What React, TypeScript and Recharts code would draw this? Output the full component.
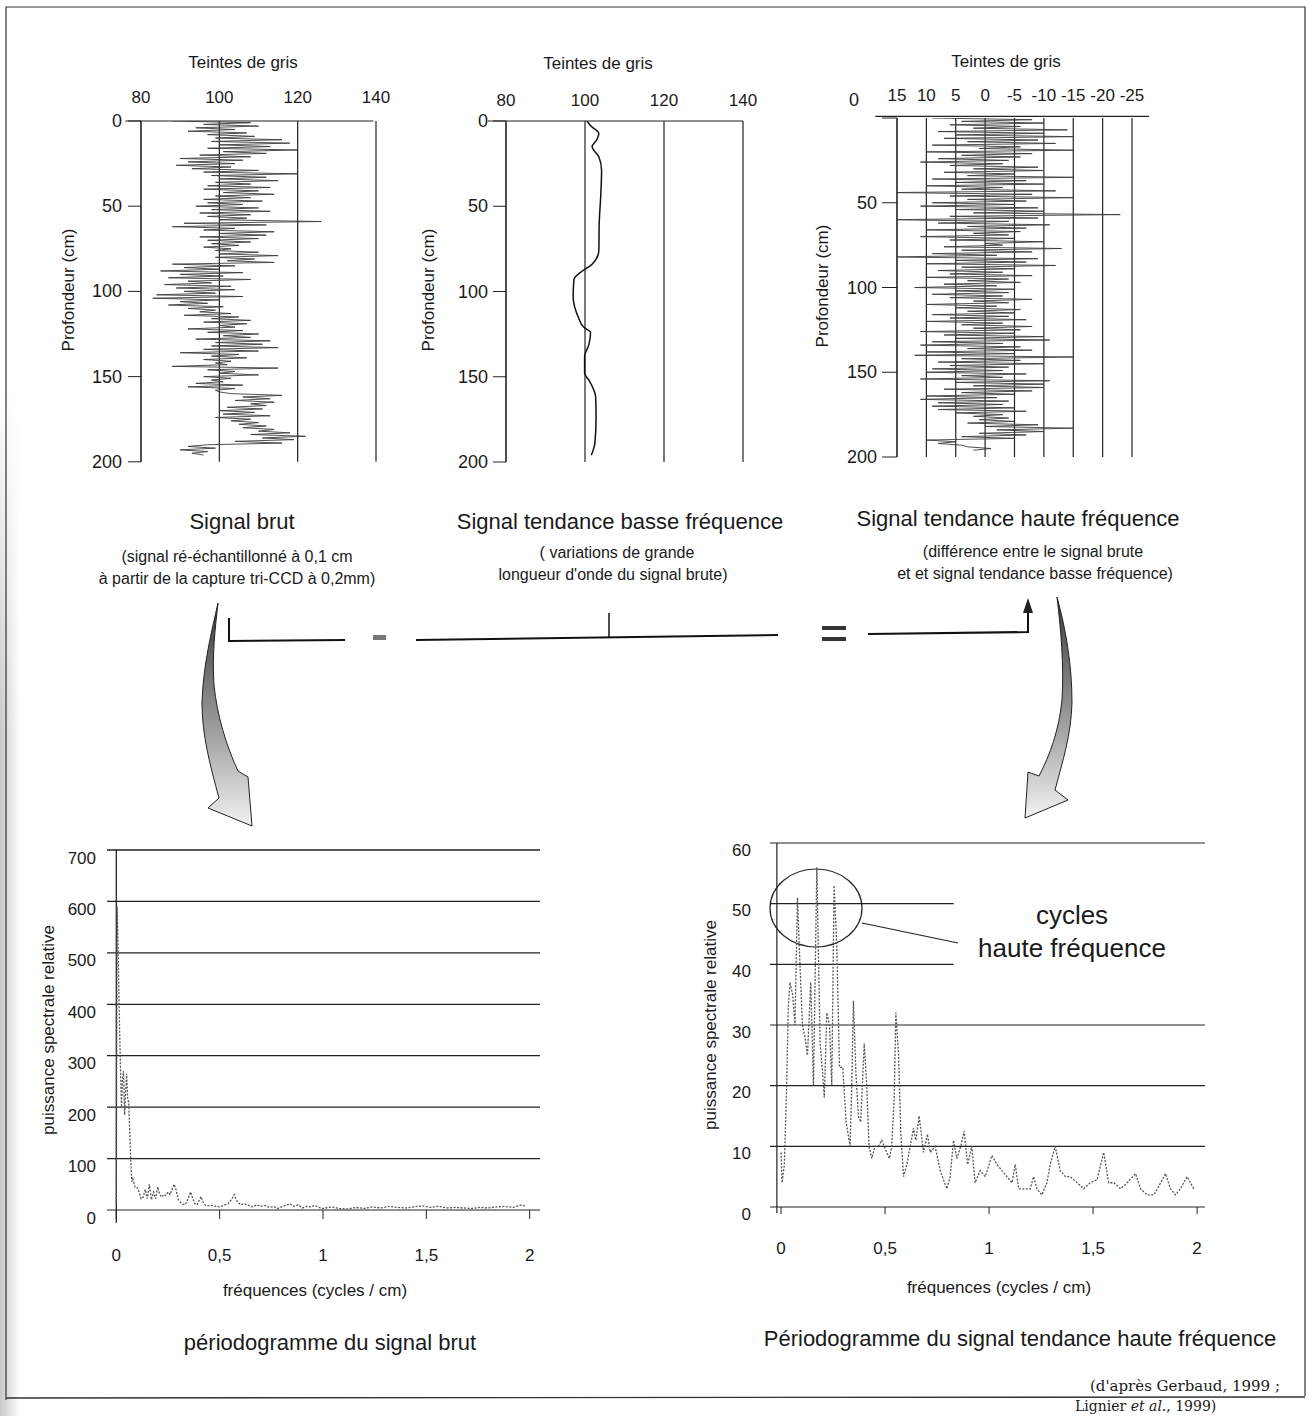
import {
  LineChart,
  Line,
  XAxis,
  YAxis,
  CartesianGrid,
  ReferenceLine,
} from "recharts";

const SANS = "'Liberation Sans', Arial, sans-serif";
const SERIF = "'DejaVu Serif', 'Liberation Serif', serif";
const INK = "#1a1a1a";

// ---- top row: depth profiles (1 sample per cm, 0..196 cm) ----
const depthStep = 1;

const brutValues = [
  88, 108, 96, 110, 94, 104, 92, 107, 97, 109,
  99, 116, 98, 118, 100, 113, 97, 120, 101, 112,
  95, 108, 90, 106, 92, 104, 89, 103, 93, 110,
  96, 120, 98, 112, 100, 115, 99, 108, 97, 113,
  96, 110, 101, 114, 99, 108, 96, 111, 97, 106,
  94, 110, 98, 113, 95, 108, 97, 107, 100, 126,
  91, 112, 88, 104, 96, 114, 100, 112, 95, 110,
  97, 108, 98, 105, 96, 103, 99, 110, 100, 115,
  99, 109, 102, 114, 88, 104, 91, 100, 85, 106,
  90, 101, 87, 108, 92, 98, 86, 103, 89, 104,
  91, 99, 84, 106, 83, 100, 90, 97, 87, 101,
  92, 99, 95, 103, 91, 105, 98, 108, 96, 107,
  100, 104, 92, 106, 97, 110, 101, 108, 94, 113,
  99, 111, 98, 115, 96, 110, 90, 105, 98, 107,
  96, 103, 99, 102, 88, 115, 97, 104, 100, 110,
  96, 103, 98, 101, 94, 106, 92, 104, 99, 100,
  103, 116, 106, 113, 104, 114, 108, 112, 102, 111,
  100, 109, 101, 113, 99, 108, 103, 110, 105, 112,
  106, 114, 110, 118, 108, 122, 111, 119, 104, 116,
  97, 92, 99, 90, 97, 93, 96,
];

const trendDepths = [
  0, 3, 7.4, 11, 15, 21, 29, 43, 60, 76, 84, 88, 93,
  103, 115, 121, 124, 131, 138, 148, 152, 162, 174, 189, 196,
];
const trendValues = [
  100.5, 101.5, 103.5, 103, 101.8, 103.5, 104.2, 104, 103.6, 103.5, 101.8, 99.3, 97.2,
  97, 98.3, 99.7, 101.4, 101, 99.9, 99.9, 101, 102.7, 102.8, 102.5, 101.6,
];

const hfValues = [
  9, -8, 4, -10, 6, -6, 2, -14, 8, -10,
  5, -15, 7, -9, 3, -12, 9, -6, 1, -15,
  10, -8, 4, -6, 8, -4, 11, -3, 6, -9,
  2, -10, 7, -5, 3, -15, 9, -7, 5, -10,
  10, -3, 4, -12, 16, -8, 6, -15, 3, -7,
  9, -5, 11, -9, 5, -10, 2, -23, 6, -9,
  16, -4, 8, -11, 3, -7, 10, -6, 2, -4,
  11, -5, 6, -10, 0, -3, 7, -13, 4, -8,
  9, -2, 16, -9, 5, -7, 10, -12, 4, -5,
  8, -3, 6, -8, 10, -4, 3, -6, 7, -2,
  12, -5, 5, -4, 9, -3, 6, -8, 2, -4,
  10, -2, 5, -6, 3, -5, 9, -4, 6, -7,
  10, -3, 4, -8, 2, -6, 11, -5, 7, -10,
  5, -11, 9, -3, 11, -6, 3, -8, 10, -5,
  12, -15, 4, -6, 8, -10, 6, -4, 9, -3,
  10, -7, 4, -3, 11, -11, 5, -10, 2, -10,
  7, -8, 4, -5, 10, -2, 11, -4, 8, -3,
  9, -5, 8, -7, 5, -3, 2, -4, 1, -5,
  3, -9, 0, -15, -2, -10, 1, -7, 4, -5,
  10, 5, 8, 4, 3, -1, 2,
];

const greyTicks = [80, 100, 120, 140];
const hfTicks = [15, 10, 5, 0, -5, -10, -15, -20, -25];
const depthTicks = [0, 50, 100, 150, 200];

// ---- bottom row: periodograms ----
const p1Freq = [
  0, 0.004, 0.008, 0.012, 0.016, 0.02, 0.025, 0.03, 0.035, 0.04,
  0.045, 0.05, 0.055, 0.06, 0.065, 0.07, 0.075, 0.08, 0.09, 0.1,
  0.11, 0.12, 0.13, 0.14, 0.15, 0.16, 0.17, 0.18, 0.19, 0.2,
  0.21, 0.22, 0.23, 0.24, 0.25, 0.26, 0.27, 0.28, 0.29, 0.3,
  0.31, 0.32, 0.33, 0.34, 0.35, 0.36, 0.37, 0.38, 0.39, 0.4,
  0.41, 0.42, 0.43, 0.44, 0.46, 0.48, 0.5, 0.52, 0.54, 0.56,
  0.57, 0.58, 0.6, 0.62, 0.64, 0.66, 0.68, 0.7, 0.72, 0.74,
  0.76, 0.78, 0.8, 0.82, 0.84, 0.86, 0.88, 0.9, 0.92, 0.94,
  0.96, 0.98, 1.0, 1.04, 1.08, 1.12, 1.16, 1.2, 1.24, 1.28,
  1.32, 1.36, 1.4, 1.44, 1.48, 1.52, 1.56, 1.6, 1.64, 1.68,
  1.72, 1.76, 1.8, 1.84, 1.88, 1.92, 1.96, 1.98,
];
const p1Power = [
  15, 590, 520, 430, 350, 280, 200, 255, 270, 185,
  230, 265, 215, 210, 150, 95, 55, 60, 45, 45,
  35, 22, 25, 40, 22, 50, 20, 35, 22, 45,
  30, 25, 30, 28, 35, 30, 40, 50, 38, 20,
  15, 12, 10, 15, 25, 35, 22, 12, 10, 18,
  26, 15, 10, 8, 9, 7, 6, 9, 12, 22,
  30, 20, 10, 12, 9, 6, 10, 7, 9, 5,
  7, 3, 6, 9, 12, 7, 10, 4, 7, 6,
  9, 5, 3, 6, 3, 2, 5, 3, 6, 4,
  7, 5, 4, 6, 8, 5, 7, 4, 5, 4,
  3, 5, 4, 6, 7, 5, 10, 7,
];

const p2Freq = [
  0, 0.005, 0.016, 0.027, 0.035, 0.043, 0.056, 0.067, 0.079, 0.091,
  0.103, 0.115, 0.127, 0.143, 0.156, 0.172, 0.188, 0.2, 0.208, 0.22,
  0.233, 0.244, 0.255, 0.268, 0.281, 0.297, 0.313, 0.332, 0.34, 0.348,
  0.36, 0.372, 0.383, 0.4, 0.412, 0.423, 0.436, 0.452, 0.468, 0.484,
  0.508, 0.521, 0.532, 0.544, 0.552, 0.565, 0.576, 0.589, 0.605, 0.621,
  0.637, 0.648, 0.664, 0.685, 0.704, 0.717, 0.741, 0.765, 0.797, 0.813,
  0.829, 0.845, 0.864, 0.88, 0.897, 0.917, 0.933, 0.957, 0.982, 1.014,
  1.038, 1.062, 1.086, 1.11, 1.126, 1.142, 1.166, 1.198, 1.214, 1.23,
  1.254, 1.278, 1.294, 1.318, 1.342, 1.367, 1.39, 1.423, 1.455, 1.487,
  1.519, 1.551, 1.575, 1.6, 1.632, 1.664, 1.704, 1.728, 1.76, 1.792,
  1.825, 1.848, 1.872, 1.896, 1.92, 1.952, 1.984,
];
const p2Power = [
  9, 4, 7, 20, 33, 37, 35, 30, 51, 40,
  30, 28, 25, 37, 20, 56, 27, 22, 18, 32,
  30, 20, 53, 43, 23, 23, 14, 10, 20, 34,
  22, 15, 14, 27, 20, 10, 8, 10, 10, 11,
  9, 8, 10, 18, 32, 25, 12, 5, 7, 10,
  13, 11, 15, 9, 12, 9, 10, 6, 3, 5,
  11, 8, 10, 12.5, 7, 10, 4, 6, 5, 8.5,
  7, 6, 5, 4, 7, 3, 3, 3, 5, 3,
  2, 4, 7, 10, 6, 5, 5, 4, 3, 4,
  4.5, 9, 4, 4, 3, 4, 5.5, 3, 2, 2,
  4, 5.5, 3, 2, 3, 5, 3,
];

const freqTicks = [0, 0.5, 1, 1.5, 2];
const p1Ticks = [0, 100, 200, 300, 400, 500, 600, 700];
const p2Ticks = [0, 10, 20, 30, 40, 50, 60];

const brutData = brutValues.map((v, i) => ({ depth: i * depthStep, v }));
const hfData = hfValues.map((v, i) => ({ depth: i * depthStep, v }));
const trendData = trendDepths.map((d, i) => ({ depth: d, v: trendValues[i] }));
const p1Data = p1Freq.map((f, i) => ({ f, p: p1Power[i] }));
const p2Data = p2Freq.map((f, i) => ({ f, p: p2Power[i] }));

const comma = (v: number) => String(v).replace(".", ",");

const makeTick =
  (anchor: "start" | "middle" | "end", size: number, dy = 0, fmt?: (v: number) => string) =>
  (props: any) => {
    const { x, y, payload } = props;
    return (
      <text
        x={x}
        y={y + dy}
        textAnchor={anchor}
        dominantBaseline="central"
        fontSize={size}
        fontFamily={SANS}
        fill={INK}
      >
        {fmt ? fmt(payload.value) : payload.value}
      </text>
    );
  };

// the "0" of the third profile sits up with the grey-level labels
const hfDepthTick = (props: any) => {
  const { x, y, payload } = props;
  const zero = payload.value === 0;
  return (
    <text
      x={zero ? x - 18 : x}
      y={zero ? y - 18 : y}
      textAnchor="end"
      dominantBaseline="central"
      fontSize={18}
      fontFamily={SANS}
      fill={INK}
    >
      {payload.value}
    </text>
  );
};

// plot rect -> absolutely placed chart box
const topBox = (px: number, py: number, pw: number, ph: number) => ({
  left: px - 100,
  top: py - 90,
  width: pw + 130,
  height: ph + 120,
});
const botBox = (px: number, py: number, pw: number, ph: number) => ({
  left: px - 100,
  top: py - 40,
  width: pw + 130,
  height: ph + 120,
});
const topMargin = { top: 40, left: 20, right: 30, bottom: 30 };
const botMargin = { top: 40, left: 20, right: 30, bottom: 30 };

const boxA = topBox(141, 120.7, 235, 340.8);
const boxB = topBox(506, 120.7, 237, 341);
const boxC = topBox(896.7, 118, 235, 339);
const boxD = botBox(107, 850, 433, 360);
const boxE = botBox(770, 843, 435, 364);

const abs = (b: { left: number; top: number }) => ({
  position: "absolute" as const,
  left: b.left,
  top: b.top,
});

const SignalBrut = () => (
  <div style={abs(boxA)}>
    <LineChart layout="vertical" width={boxA.width} height={boxA.height} data={brutData} margin={topMargin}>
      <CartesianGrid horizontal={false} stroke="#222" strokeWidth={1.2} />
      <XAxis
        type="number"
        orientation="top"
        domain={[80, 140]}
        ticks={greyTicks}
        interval={0}
        height={50}
        axisLine={false}
        tickLine={false}
        tickSize={0}
        tickMargin={23}
        tick={makeTick("middle", 17)}
        allowDataOverflow
      />
      <YAxis
        type="number"
        dataKey="depth"
        domain={[0, 200]}
        ticks={depthTicks}
        interval={0}
        width={80}
        stroke="#222"
        tickSize={13}
        tickMargin={6}
        tick={makeTick("end", 18)}
        allowDataOverflow
      />
      <ReferenceLine
        segment={[{ x: 76, y: 0 }, { x: 139.3, y: 0 }]}
        stroke="#222"
        strokeWidth={1.2}
        ifOverflow="visible"
      />
      <Line
        dataKey="v"
        type="linear"
        stroke="#3c3c3c"
        strokeWidth={0.9}
        dot={false}
        isAnimationActive={false}
      />
    </LineChart>
  </div>
);

const SignalTrend = () => (
  <div style={abs(boxB)}>
    <LineChart layout="vertical" width={boxB.width} height={boxB.height} data={trendData} margin={topMargin}>
      <CartesianGrid horizontal={false} stroke="#222" strokeWidth={1.2} />
      <XAxis
        type="number"
        orientation="top"
        domain={[80, 140]}
        ticks={greyTicks}
        interval={0}
        height={50}
        axisLine={false}
        tickLine={false}
        tickSize={0}
        tickMargin={21}
        tick={makeTick("middle", 17)}
        allowDataOverflow
      />
      <YAxis
        type="number"
        dataKey="depth"
        domain={[0, 200]}
        ticks={depthTicks}
        interval={0}
        width={80}
        stroke="#222"
        tickSize={13}
        tickMargin={5}
        tick={makeTick("end", 18)}
        allowDataOverflow
      />
      <ReferenceLine
        segment={[{ x: 75.4, y: 0 }, { x: 140, y: 0 }]}
        stroke="#222"
        strokeWidth={1.2}
        ifOverflow="visible"
      />
      <Line
        dataKey="v"
        type="monotoneY"
        stroke="#111"
        strokeWidth={1.5}
        dot={false}
        isAnimationActive={false}
      />
    </LineChart>
  </div>
);

const SignalHaute = () => (
  <div style={abs(boxC)}>
    <LineChart layout="vertical" width={boxC.width} height={boxC.height} data={hfData} margin={topMargin}>
      <CartesianGrid horizontal={false} stroke="#222" strokeWidth={1.2} />
      <XAxis
        type="number"
        orientation="top"
        domain={[-25, 15]}
        reversed
        ticks={hfTicks}
        interval={0}
        height={50}
        axisLine={false}
        tickLine={false}
        tickSize={0}
        tickMargin={23}
        tick={makeTick("middle", 17)}
        allowDataOverflow
      />
      <YAxis
        type="number"
        dataKey="depth"
        domain={[0, 200]}
        ticks={depthTicks}
        interval={0}
        width={80}
        stroke="#222"
        tickSize={15}
        tickMargin={5}
        tick={hfDepthTick}
        allowDataOverflow
      />
      <ReferenceLine
        segment={[{ x: 18.7, y: -1 }, { x: -27.9, y: -1 }]}
        stroke="#222"
        strokeWidth={1.2}
        ifOverflow="visible"
      />
      <Line
        dataKey="v"
        type="linear"
        stroke="#3c3c3c"
        strokeWidth={0.9}
        dot={false}
        isAnimationActive={false}
      />
    </LineChart>
  </div>
);

const PeriodoBrut = () => (
  <div style={abs(boxD)}>
    <LineChart width={boxD.width} height={boxD.height} data={p1Data} margin={botMargin}>
      {p1Ticks.slice(1).map((t) => (
        <ReferenceLine key={t} y={t} stroke="#222" strokeWidth={1.3} />
      ))}
      <XAxis
        type="number"
        dataKey="f"
        domain={[-0.045, 2.05]}
        ticks={freqTicks}
        interval={0}
        height={50}
        stroke="#222"
        tickSize={9}
        tickMargin={36}
        tick={makeTick("middle", 17, 0, comma)}
        allowDataOverflow
      />
      <YAxis
        type="number"
        domain={[0, 700]}
        ticks={p1Ticks}
        interval={0}
        width={80}
        axisLine={false}
        tickLine={false}
        tickSize={0}
        tickMargin={11}
        tick={makeTick("end", 17, 8)}
        allowDataOverflow
      />
      <ReferenceLine
        segment={[{ x: 0, y: -25 }, { x: 0, y: 700 }]}
        stroke="#222"
        strokeWidth={1.3}
        ifOverflow="visible"
      />
      <Line
        dataKey="p"
        type="linear"
        stroke="#555"
        strokeWidth={1.3}
        strokeDasharray="2 1.5"
        dot={false}
        isAnimationActive={false}
      />
    </LineChart>
  </div>
);

const PeriodoHaute = () => (
  <div style={abs(boxE)}>
    <LineChart width={boxE.width} height={boxE.height} data={p2Data} margin={botMargin}>
      {[60, 30, 20, 10].map((t) => (
        <ReferenceLine key={t} y={t} stroke="#222" strokeWidth={1.1} />
      ))}
      {[50, 40].map((t) => (
        <ReferenceLine
          key={t}
          segment={[{ x: -0.053, y: t }, { x: 0.83, y: t }]}
          stroke="#222"
          strokeWidth={1.1}
        />
      ))}
      <XAxis
        type="number"
        dataKey="f"
        domain={[-0.053, 2.038]}
        ticks={freqTicks}
        interval={0}
        height={50}
        stroke="#222"
        tickSize={7}
        tickMargin={34}
        tick={makeTick("middle", 17, 0, comma)}
        allowDataOverflow
      />
      <YAxis
        type="number"
        domain={[0, 60]}
        ticks={p2Ticks}
        interval={0}
        width={80}
        axisLine={false}
        tickLine={false}
        tickSize={0}
        tickMargin={19}
        tick={makeTick("end", 17, 7)}
        allowDataOverflow
      />
      <ReferenceLine
        segment={[{ x: -0.02, y: -1 }, { x: -0.02, y: 60 }]}
        stroke="#222"
        strokeWidth={1.2}
        ifOverflow="visible"
      />
      <Line
        dataKey="p"
        type="linear"
        stroke="#555"
        strokeWidth={1.3}
        strokeDasharray="2 1.5"
        dot={false}
        isAnimationActive={false}
      />
    </LineChart>
  </div>
);

const T = ({ x, y, size, children, rotate, family = SANS, anchor = "middle" }: any) => (
  <text
    x={x}
    y={y}
    fontSize={size}
    fontFamily={family}
    fill={INK}
    textAnchor={anchor}
    dominantBaseline="central"
    transform={rotate ? `rotate(-90 ${x} ${y})` : undefined}
  >
    {children}
  </text>
);

const Overlay = () => (
  <svg width={1309} height={1416} style={{ position: "absolute", left: 0, top: 0 }}>
    <defs>
      <linearGradient id="scanEdge" x1="0" x2="1" y1="0" y2="0">
        <stop offset="0" stopColor="#000" stopOpacity={0.22} />
        <stop offset="1" stopColor="#000" stopOpacity={0} />
      </linearGradient>
      <linearGradient id="scanFade" x1="0" x2="0" y1="0" y2="1">
        <stop offset="0" stopColor="#fff" stopOpacity={1} />
        <stop offset="0.35" stopColor="#fff" stopOpacity={0} />
      </linearGradient>
      <linearGradient id="arrowFill" x1="0" x2="0" y1="0" y2="1">
        <stop offset="0" stopColor="#3a3a3a" />
        <stop offset="0.55" stopColor="#9a9a9a" />
        <stop offset="1" stopColor="#f2f2f2" />
      </linearGradient>
    </defs>
    <rect x={0} y={380} width={20} height={1036} fill="url(#scanEdge)" />
    <rect x={0} y={380} width={20} height={1036} fill="url(#scanFade)" />

    {/* frame */}
    <polyline points="6,1400 6,7 1305,7 1305,1396" fill="none" stroke="#333" strokeWidth={1.2} />
    <line x1={6} y1={1398} x2={1305} y2={1397} stroke="#333" strokeWidth={1.4} />

    {/* top row titles */}
    <T x={243} y={62} size={17}>Teintes de gris</T>
    <T x={598} y={63} size={17}>Teintes de gris</T>
    <T x={1006} y={61} size={17}>Teintes de gris</T>
    <T x={68} y={290} size={17} rotate>Profondeur (cm)</T>
    <T x={428} y={290} size={17} rotate>Profondeur (cm)</T>
    <T x={822} y={286} size={17} rotate>Profondeur (cm)</T>

    <T x={242} y={521} size={22}>Signal brut</T>
    <T x={237} y={556} size={16}>(signal ré-échantillonné à 0,1 cm</T>
    <T x={237} y={578} size={16}>à partir de la capture tri-CCD à 0,2mm)</T>
    <T x={620} y={521} size={22}>Signal tendance basse fréquence</T>
    <T x={617} y={552} size={16}>( variations de grande</T>
    <T x={613} y={574} size={16}>longueur d'onde du signal brute)</T>
    <T x={1018} y={518} size={22}>Signal tendance haute fréquence</T>
    <T x={1033} y={551} size={16}>(différence entre le signal brute</T>
    <T x={1035} y={573} size={16}>et et signal tendance basse fréquence)</T>

    {/* brut - basse = haute */}
    <polyline points="229,618 229,641 345,640" fill="none" stroke="#111" strokeWidth={2} />
    <rect x={373} y={635} width={13} height={5} fill="#777" />
    <line x1={416} y1={640} x2={778} y2={635} stroke="#111" strokeWidth={2} />
    <line x1={609} y1={613} x2={609} y2={637} stroke="#111" strokeWidth={1.5} />
    <rect x={822} y={626} width={24} height={4} fill="#333" />
    <rect x={822} y={637} width={24} height={4} fill="#333" />
    <polyline points="868,634 1028,632 1028,610" fill="none" stroke="#111" strokeWidth={2} />
    <polygon points="1023,613 1028,598 1033,613" fill="#222" />

    {/* curved arrows */}
    <path
      d="M218,603 C212,630 203,665 202,703 C202,735 210,765 219,798 L208,808 L252,826 L248,777 L238,771 C226,745 217,715 214,685 C212,655 215,630 218,603 Z"
      fill="url(#arrowFill)"
      stroke="#222"
      strokeWidth={1}
    />
    <path
      d="M1057,597 C1066,630 1072,665 1072,703 C1071,735 1063,760 1055,790 L1068,800 L1025,818 L1028,772 L1039,776 C1050,755 1059,730 1062,700 C1064,665 1061,630 1057,597 Z"
      fill="url(#arrowFill)"
      stroke="#222"
      strokeWidth={1}
    />

    {/* bottom row labels */}
    <T x={48} y={1030} size={17} rotate>puissance spectrale relative</T>
    <T x={710} y={1025} size={17} rotate>puissance spectrale relative</T>
    <T x={315} y={1290} size={17}>fréquences (cycles / cm)</T>
    <T x={999} y={1287} size={17}>fréquences (cycles / cm)</T>
    <T x={330} y={1342} size={22}>périodogramme du signal brut</T>
    <T x={1020} y={1338} size={22}>Périodogramme du signal tendance haute fréquence</T>

    {/* annotation on the second periodogram */}
    <ellipse cx={816} cy={908} rx={46} ry={39} fill="none" stroke="#222" strokeWidth={1.2} />
    <line x1={862} y1={923} x2={958} y2={943} stroke="#222" strokeWidth={1.2} />
    <T x={1072} y={915} size={26}>cycles</T>
    <T x={1072} y={948} size={26}>haute fréquence</T>

    <T x={1185} y={1386} size={15} family={SERIF}>(d'après Gerbaud, 1999 ;</T>
    <text x={1075} y={1406} fontSize={14} fontFamily={SERIF} fill={INK} dominantBaseline="central">
      Lignier <tspan fontStyle="italic">et al.</tspan>, 1999)
    </text>
  </svg>
);

const App = () => {
  return (
    <div
      style={{
        position: "absolute",
        left: 0,
        top: 0,
        width: 1309,
        height: 1416,
        background: "#fff",
        overflow: "hidden",
        fontFamily: SANS,
      }}
    >
      <Overlay />
      <SignalBrut />
      <SignalTrend />
      <SignalHaute />
      <PeriodoBrut />
      <PeriodoHaute />
    </div>
  );
};

export default App;
